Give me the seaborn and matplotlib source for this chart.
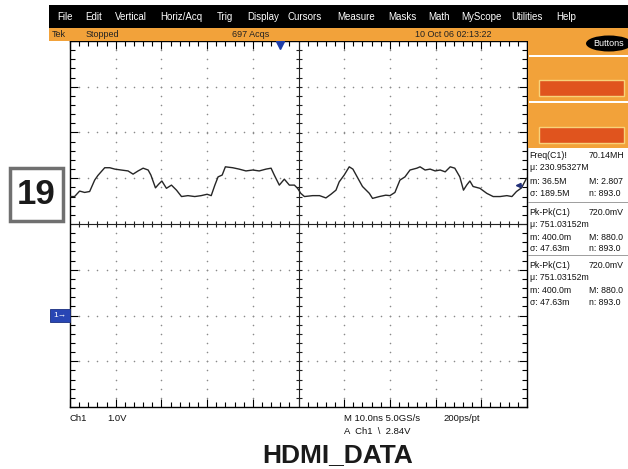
import matplotlib
matplotlib.use("Agg")
import matplotlib.pyplot as plt
import numpy as np
import pandas as pd
import seaborn as sns
from matplotlib.patches import Rectangle, Ellipse
from matplotlib.ticker import MultipleLocator

# ---- data ----
TIME_NS = [-50.0, -49.0, -47.9, -46.8, -45.7, -44.6, -43.9, -43.2, -42.4, -41.3,
           -40.2, -38.8, -37.3, -36.2, -35.1, -34.0, -32.9, -32.3, -31.3, -30.6,
           -29.9, -28.9, -27.8, -26.7, -25.6, -24.2, -22.7, -21.3, -20.0, -19.1,
           -18.3, -17.6, -16.7, -16.0, -14.4, -13.0, -11.5, -10.0, -8.6, -7.1,
           -6.0, -5.3, -4.2, -3.1, -2.0, -0.9, -0.2, 0.5, 1.3, 3.1,
           4.6, 6.0, 7.1, 8.2, 8.9, 10.0, 11.1, 11.9, 13.0, 14.0,
           15.5, 16.2, 17.7, 19.1, 20.0, 21.1, 22.2, 23.3, 24.4, 25.9,
           26.6, 27.7, 28.8, 29.9, 31.0, 32.1, 33.2, 34.2, 35.3, 36.1,
           36.8, 37.5, 38.2, 39.7, 41.2, 42.6, 44.1, 45.6, 46.7, 47.7,
           48.8, 49.9]
VOLTS = [2.60, 2.60, 2.72, 2.69, 2.71, 2.96, 3.06, 3.14, 3.23, 3.23,
         3.20, 3.18, 3.16, 3.09, 3.16, 3.22, 3.18, 3.07, 2.79, 2.87,
         2.94, 2.78, 2.85, 2.74, 2.60, 2.62, 2.60, 2.62, 2.65, 2.62,
         2.85, 3.03, 3.07, 3.25, 3.23, 3.20, 3.16, 3.18, 3.16, 3.20,
         3.22, 3.07, 2.85, 2.98, 2.85, 2.85, 2.78, 2.67, 2.60, 2.62,
         2.62, 2.57, 2.65, 2.74, 2.92, 3.07, 3.25, 3.20, 3.00, 2.82,
         2.67, 2.56, 2.60, 2.63, 2.62, 2.69, 2.96, 3.03, 3.18, 3.22,
         3.25, 3.18, 3.20, 3.16, 3.18, 3.14, 3.25, 3.22, 3.03, 2.74,
         2.85, 2.94, 2.82, 2.78, 2.67, 2.60, 2.60, 2.62, 2.60, 2.71,
         2.79, 3.00]

TRIGGER_POS_NS = -4.0
TRIGGER_LEVEL_V = 2.84
GROUND_V = 0.0

MENU_ITEMS = ["File", "Edit", "Vertical", "Horiz/Acq", "Trig", "Display", "Cursors",
              "Measure", "Masks", "Math", "MyScope", "Utilities", "Help"]
MENU_X = [57, 85, 115, 160, 217, 247, 287, 337, 388, 428, 461, 511, 556]

MEAS_LEFT = ["Freq(C1)!", "\u03bc: 230.95327M", "m: 36.5M", "\u03c3: 189.5M",
             "Pk-Pk(C1)", "\u03bc: 751.03152m", "m: 400.0m", "\u03c3: 47.63m",
             "Pk-Pk(C1)", "\u03bc: 751.03152m", "m: 400.0m", "\u03c3: 47.63m"]
MEAS_RIGHT = ["70.14MH", "", "M: 2.807", "n: 893.0",
              "720.0mV", "", "M: 880.0", "n: 893.0",
              "720.0mV", "", "M: 880.0", "n: 893.0"]
MEAS_Y = [156, 168, 181, 193, 212, 224, 237, 248, 265, 277, 290, 302]

W, H = 628, 469
ORANGE = "#F2A23A"
BTN = "#E0541E"
BLUE = "#2846B4"


def fx(x):
    return x / W


def fy(y):
    return 1 - y / H


def prect(fig, x0, y0, x1, y1, **kw):
    fig.add_artist(Rectangle((fx(x0), fy(y1)), fx(x1) - fx(x0), fy(y0) - fy(y1),
                             transform=fig.transFigure, **kw))


def ptext(fig, x, y, s, **kw):
    kw.setdefault("va", "center")
    kw.setdefault("ha", "left")
    fig.text(fx(x), fy(y), s, **kw)


def main():
    sns.set_theme(style="white")
    plt.rcParams["font.family"] = ["Liberation Sans", "DejaVu Sans"]

    fig = plt.figure(figsize=(6.28, 4.69), dpi=100)
    fig.patch.set_facecolor("white")

    # menu bar + status bar + right button panel
    prect(fig, 49, 5, 628, 28, facecolor="black", edgecolor="none")
    prect(fig, 49, 28, 628, 41, facecolor=ORANGE, edgecolor="none")
    prect(fig, 528, 41, 628, 148, facecolor=ORANGE, edgecolor="none")
    prect(fig, 529, 55, 628, 57.5, facecolor="white", edgecolor="none")
    prect(fig, 529, 101, 628, 103.5, facecolor="white", edgecolor="none")
    prect(fig, 539, 80, 624, 96, facecolor=BTN, edgecolor="#F8D27A", linewidth=1)
    prect(fig, 539, 127, 624, 143, facecolor=BTN, edgecolor="#F8D27A", linewidth=1)
    fig.add_artist(Ellipse((fx(609), fy(43.5)), fx(46), 16 / H, transform=fig.transFigure,
                           facecolor="black", edgecolor="none"))
    ptext(fig, 609, 43.5, "Buttons", color="white", fontsize=6.5, ha="center")

    for name, x in zip(MENU_ITEMS, MENU_X):
        ptext(fig, x, 16.5, name, color="white", fontsize=7)
    ptext(fig, 52, 34.5, "Tek", fontsize=6.5, color="#222")
    ptext(fig, 86, 34.5, "Stopped", fontsize=6.5, color="#222")
    ptext(fig, 232, 34.5, "697 Acqs", fontsize=6.5, color="#222")
    ptext(fig, 415, 34.5, "10 Oct 06 02:13:22", fontsize=6.5, color="#222")

    # scope graticule
    ax = fig.add_axes([fx(70), fy(407), fx(527) - fx(70), fy(41) - fy(407)])
    ax.set_facecolor("white")
    ax.set_xlim(-50, 50)
    ax.set_ylim(-2, 6)
    for sp in ax.spines.values():
        sp.set_color("black")
        sp.set_linewidth(1.0)
    ax.xaxis.set_major_locator(MultipleLocator(10))
    ax.xaxis.set_minor_locator(MultipleLocator(2))
    ax.yaxis.set_major_locator(MultipleLocator(1))
    ax.yaxis.set_minor_locator(MultipleLocator(0.2))
    ax.tick_params(which="both", direction="in", top=True, bottom=True, left=True,
                   right=True, labelbottom=False, labelleft=False, color="black", width=0.8)
    ax.tick_params(which="major", length=6)
    ax.tick_params(which="minor", length=3.5)

    major_x = np.arange(-40, 41, 10)
    major_y = np.arange(-1, 6, 1)
    minor_x = np.arange(-48, 49, 2)
    minor_y = np.arange(-1.8, 5.9, 0.2)
    gx, gy = np.meshgrid(major_x, minor_y)
    hx, hy = np.meshgrid(minor_x, major_y)
    ax.scatter(np.concatenate([gx.ravel(), hx.ravel()]),
               np.concatenate([gy.ravel(), hy.ravel()]),
               s=1.3, color="#8a8a8a", linewidths=0, zorder=1)

    ax.axhline(2, color="#222", lw=0.8, zorder=2)
    ax.axvline(0, color="#222", lw=0.8, zorder=2)
    ax.scatter(minor_x, np.full(len(minor_x), 2.0), marker="|", s=22, color="#222",
               linewidths=0.8, zorder=2)
    ax.scatter(np.zeros(len(minor_y)), minor_y, marker="_", s=22, color="#222",
               linewidths=0.8, zorder=2)

    df = pd.DataFrame({"t": TIME_NS, "v": VOLTS})
    sns.lineplot(data=df, x="t", y="v", ax=ax, color="#262626", lw=1.0,
                 estimator=None, sort=False, zorder=4)
    ax.set_xlabel("")
    ax.set_ylabel("")

    # trigger position / level and ground markers
    ax.plot([TRIGGER_POS_NS], [0.988], transform=ax.get_xaxis_transform(), marker="v",
            ms=6, color="#1f3ea8", clip_on=False, zorder=6)
    ax.annotate("", xy=(0.968, TRIGGER_LEVEL_V), xytext=(0.996, TRIGGER_LEVEL_V),
                xycoords=ax.get_yaxis_transform(),
                arrowprops=dict(arrowstyle="-|>", color="#22307a", lw=1.2,
                                mutation_scale=7), zorder=6)
    gy_px = 407 - (GROUND_V + 2) / 8 * 366
    prect(fig, 50, gy_px - 6.5, 69.5, gy_px + 6.5, facecolor=BLUE, edgecolor="#1a2f80",
          linewidth=0.6)
    ptext(fig, 59.5, gy_px, "1\u2192", color="white", fontsize=6, ha="center")

    # figure number box
    prect(fig, 10, 168, 63, 221, facecolor="white", edgecolor="#707070", linewidth=2.5)
    ptext(fig, 36.5, 195, "19", fontsize=25, fontweight="bold", color="#1a1a1a", ha="center")

    # measurement readouts
    prect(fig, 528, 202.5, 628, 203.5, facecolor="#a0a0a0", edgecolor="none")
    prect(fig, 528, 255, 628, 256, facecolor="#a0a0a0", edgecolor="none")
    for left, right, y in zip(MEAS_LEFT, MEAS_RIGHT, MEAS_Y):
        ptext(fig, 529.5, y, left, fontsize=6.3, color="#111")
        if right:
            ptext(fig, 589, y, right, fontsize=6.3, color="#111")

    # bottom readouts
    ptext(fig, 70, 418, "Ch1", fontsize=6.8, color="#111")
    ptext(fig, 107, 418, "1.0V", fontsize=6.8, color="#111")
    ptext(fig, 344, 418, "M 10.0ns 5.0GS/s", fontsize=6.8, color="#111")
    ptext(fig, 443, 418, "200ps/pt", fontsize=6.8, color="#111")
    ptext(fig, 344, 431, "A  Ch1  \\  2.84V", fontsize=6.8, color="#111")

    ptext(fig, 338, 455, "HDMI_DATA", fontsize=19, fontweight="bold", color="#1a1a1a",
          ha="center")

    fig.savefig("out.png", dpi=100)


if __name__ == "__main__":
    main()
